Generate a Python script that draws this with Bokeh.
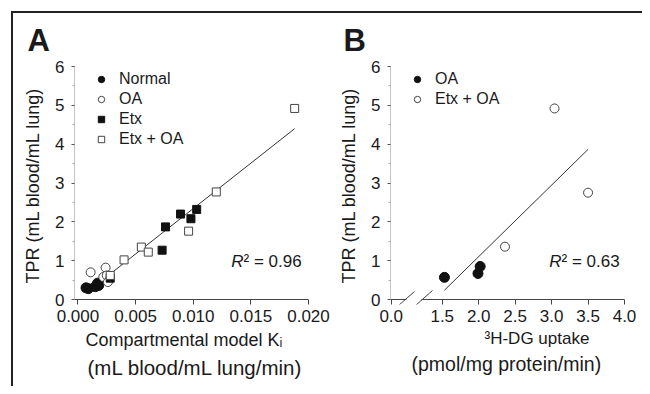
import numpy as np
from bokeh.plotting import figure
from bokeh.models import FixedTicker, Label, Legend, LegendItem, Range1d, Title, Spacer
from bokeh.layouts import row, column
from bokeh.embed import file_html
from bokeh.resources import INLINE

# ---------------- data ----------------
# Panel A: TPR vs compartmental model Ki
normal_x = [0.0007, 0.0009, 0.0015, 0.0017, 0.0018]
normal_y = [0.30, 0.28, 0.33, 0.42, 0.36]
oa_x = [0.0011, 0.0022, 0.0024, 0.0025, 0.0026]
oa_y = [0.70, 0.58, 0.82, 0.62, 0.45]
etx_x = [0.0028, 0.0073, 0.0076, 0.0089, 0.0098, 0.0103]
etx_y = [0.55, 1.27, 1.87, 2.20, 2.08, 2.32]
etxoa_x = [0.0028, 0.0040, 0.0055, 0.0061, 0.0096, 0.0120, 0.0188]
etxoa_y = [0.62, 1.02, 1.35, 1.22, 1.76, 2.77, 4.92]
fit_a_start = 0.0021
r2_a = "0.96"
xticks_a = [0.0, 0.005, 0.010, 0.015, 0.020]
xtick_labels_a = ["0.000", "0.005", "0.010", "0.015", "0.020"]

# Panel B: TPR vs 3H-DG uptake
b_oa_x = [1.53, 1.99, 2.02]
b_oa_y = [0.57, 0.67, 0.85]
b_etxoa_x = [2.36, 3.04, 3.50]
b_etxoa_y = [1.36, 4.92, 2.75]
r2_b = "0.63"
xticks_b = [0.8, 1.5, 2.0, 2.5, 3.0, 3.5, 4.0]   # 0.8 = position of "0.0" after the axis break
xtick_labels_b = ["0.0", "1.5", "2.0", "2.5", "3.0", "3.5", "4.0"]

yticks = [0, 1, 2, 3, 4, 5, 6]

FONT = "Liberation Sans"
TXT = "#1a1a1a"
DARK = "#111111"
OPEN_LINE = "#444444"
AXC = "#444444"
RULE = "#222222"
PX_PER_Y = 233 / 6          # frame pixels per y unit
Y_LO = -5 / PX_PER_Y        # frame runs 5 px below y = 0 (room for the break marks)
H = 373


def yy(py):
    return (299 - py) / PX_PER_Y


def style(p, xticks, xlabels):
    p.xgrid.visible = False
    p.ygrid.visible = False
    p.outline_line_color = None
    p.border_fill_color = "white"
    p.background_fill_color = "white"
    for ax in p.axis:
        ax.major_label_text_font = FONT
        ax.major_label_text_font_size = "17px"
        ax.major_label_text_color = TXT
        ax.axis_label_text_font = FONT
        ax.axis_label_text_font_style = "normal"
        ax.axis_label_text_color = TXT
        ax.major_tick_in = 0
        ax.minor_tick_in = 0
    p.yaxis.ticker = FixedTicker(ticks=yticks, minor_ticks=[v + 0.5 for v in yticks[:-1]])
    p.yaxis.bounds = (0, 6)
    p.yaxis.axis_line_color = "#8a8a8a"
    p.yaxis.axis_line_dash = "1 1"
    p.yaxis.major_tick_out = 3
    p.yaxis.minor_tick_out = 2
    p.yaxis.major_tick_line_color = "#555555"
    p.yaxis.minor_tick_line_color = "#aaaaaa"
    p.yaxis.major_label_standoff = 7
    p.yaxis.axis_label = "TPR (mL blood/mL lung)"
    p.yaxis.axis_label_text_font_size = "18px"
    p.yaxis.axis_label_standoff = 9
    # x axis: ticks reach up from the frame bottom to the y = 0 line drawn as a glyph
    p.xaxis.ticker = FixedTicker(ticks=xticks)
    p.xaxis.major_label_overrides = {t: l for t, l in zip(xticks, xlabels)}
    p.xaxis.axis_line_color = None
    p.xaxis.major_tick_out = 0
    p.xaxis.major_tick_in = 5
    p.xaxis.major_tick_line_color = AXC
    p.xaxis.minor_tick_line_color = None
    p.xaxis.major_label_standoff = 5


def legend_style(leg):
    leg.border_line_color = None
    leg.background_fill_alpha = 0
    leg.label_text_font = FONT
    leg.label_text_font_size = "16px"
    leg.label_text_color = TXT
    leg.glyph_width = 16
    leg.glyph_height = 20
    leg.label_height = 20
    leg.spacing = 0
    leg.padding = 0
    leg.margin = 0
    leg.label_standoff = 10


def panel_title(p, text, offset):
    p.title.text = text
    p.title.align = "left"
    p.title.offset = offset
    p.title.text_font = FONT
    p.title.text_font_size = "31px"
    p.title.text_font_style = "bold"
    p.title.text_color = TXT
    p.title.standoff = 14
    p.title.vertical_align = "top"


def x_title(p, text, offset, standoff, size):
    p.add_layout(Title(text=text, align="left", offset=offset, standoff=standoff,
                       text_font=FONT, text_font_size=size, text_font_style="normal",
                       text_color=TXT), "below")


def add_text(p, x, y, text, size, style="normal", align="left"):
    p.add_layout(Label(x=x, y=y, text=text, text_font=FONT, text_font_size=size,
                       text_font_style=style, text_color=TXT, text_align=align,
                       text_baseline="middle"))


def new_panel(width, xr, left, right):
    return figure(width=width, height=H, output_backend="svg", toolbar_location=None,
                  x_range=Range1d(*xr), y_range=Range1d(Y_LO, 6),
                  min_border_left=left, min_border_right=right,
                  min_border_top=53, min_border_bottom=82)


# ---------------- panel A ----------------
XA0, XA1 = -0.0003, 0.0200
pA = new_panel(317, (XA0, XA1), 61, 22)
style(pA, xticks_a, xtick_labels_a)
panel_title(pA, "A", -47)


def a_x(px):
    return XA0 + (px - 74) / 234 * (XA1 - XA0)


pA.segment(x0=[XA0], y0=[0], x1=[XA1], y1=[0], line_color=AXC, line_width=1)

all_ax = np.array(normal_x + oa_x + etx_x + etxoa_x)
all_ay = np.array(normal_y + oa_y + etx_y + etxoa_y)
ka, ba = np.polyfit(all_ax, all_ay, 1)
fx = np.array([fit_a_start, all_ax.max()])
pA.line(fx, ka * fx + ba, line_color="#333333", line_width=1)

rn = pA.scatter(normal_x, normal_y, marker="circle", size=10, fill_color=DARK, line_color=DARK)
ro = pA.scatter(oa_x, oa_y, marker="circle", size=9, fill_color="white", line_color=OPEN_LINE, line_width=1)
re = pA.scatter(etx_x, etx_y, marker="square", size=8, fill_color=DARK, line_color=DARK)
reo = pA.scatter(etxoa_x, etxoa_y, marker="square", size=8, fill_color="white", line_color=OPEN_LINE, line_width=1)

legA = Legend(items=[LegendItem(label="Normal", renderers=[rn]),
                     LegendItem(label="OA", renderers=[ro]),
                     LegendItem(label="Etx", renderers=[re]),
                     LegendItem(label="Etx + OA", renderers=[reo])],
              location=(19, 155))
legend_style(legA)
pA.add_layout(legA)

add_text(pA, a_x(243), yy(261), "R", "17px", "italic", "right")
add_text(pA, a_x(243), yy(261), "² = " + r2_a, "17px")
x_title(pA, "Compartmental model Kᵢ", 11, 7, "18px")
x_title(pA, "(mL blood/mL lung/min)", 13, 1, "20.5px")

# ---------------- panel B (broken x axis) ----------------
XB0, XB1 = 0.79, 4.0
pB = new_panel(312, (XB0, XB1), 60, 18)
style(pB, xticks_b, xtick_labels_b)
panel_title(pB, "B", -47)


def b_x(px):
    return XB0 + (px - 390) / 234 * (XB1 - XB0)


# axis pieces at y = 0 and the two break slashes
pB.segment(x0=[XB0, b_x(421), b_x(398), b_x(415)], y0=[0, 0, yy(305), yy(305)],
           x1=[b_x(406), XB1, b_x(414), b_x(432)], y1=[0, 0, yy(291), yy(290)],
           line_color=AXC, line_width=1)

bx = np.array(b_oa_x + b_etxoa_x)
by = np.array(b_oa_y + b_etxoa_y)
kb, bb = np.polyfit(bx, by, 1)
fbx = np.array([bx.min(), bx.max()])
pB.line(fbx, kb * fbx + bb, line_color="#333333", line_width=1)

rbo = pB.scatter(b_oa_x, b_oa_y, marker="circle", size=10, fill_color=DARK, line_color=DARK)
rbeo = pB.scatter(b_etxoa_x, b_etxoa_y, marker="circle", size=9, fill_color="white",
                  line_color=OPEN_LINE, line_width=1)

legB = Legend(items=[LegendItem(label="OA", renderers=[rbo]),
                     LegendItem(label="Etx + OA", renderers=[rbeo])],
              location=(19, 195))
legend_style(legB)
pB.add_layout(legB)

add_text(pB, b_x(561), yy(261), "R", "17px", "italic", "right")
add_text(pB, b_x(561), yy(261), "² = " + r2_b, "17px")
x_title(pB, "³H-DG uptake", 94, 5, "17px")
x_title(pB, "(pmol/mg protein/min)", 21, 1, "19.5px")

# ---------------- frame lines round the figure ----------------
top_bar = column(Spacer(width=631, height=2), width=631, height=2,
                 styles={"background-color": RULE})
left_bar = Spacer(width=2, height=H, styles={"background-color": RULE})
body = column(top_bar, row(left_bar, pA, pB, spacing=0), spacing=0)
layout = column(Spacer(width=642, height=11),
                row(Spacer(width=11, height=H + 2), body, spacing=0), spacing=0)

open("out.html", "w").write(file_html(layout, INLINE))
